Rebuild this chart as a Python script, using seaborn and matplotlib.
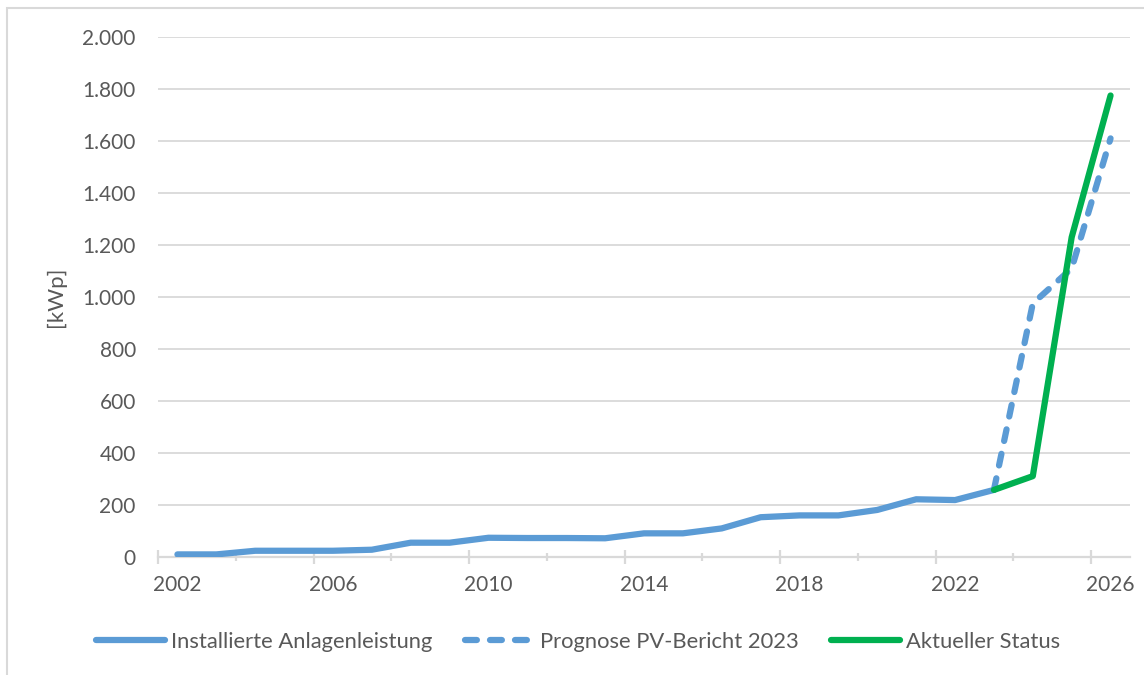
import matplotlib
matplotlib.use("Agg")
import matplotlib.pyplot as plt
from matplotlib.patches import Rectangle
from matplotlib.ticker import FuncFormatter, FixedLocator
import seaborn as sns
import pandas as pd

# ---- data ----
years_installed = [2002, 2003, 2004, 2005, 2006, 2007, 2008, 2009, 2010, 2011, 2012,
                   2013, 2014, 2015, 2016, 2017, 2018, 2019, 2020, 2021, 2022, 2023]
installed = [10, 10, 24, 24, 24, 28, 55, 55, 74, 73, 73,
             72, 91, 91, 110, 153, 160, 160, 181, 222, 219, 258]
years_forecast = [2023, 2024, 2025, 2026]
forecast = [258, 975, 1110, 1610]
status = [258, 311, 1230, 1775]
label_installed = "Installierte Anlagenleistung"
label_forecast = "Prognose PV-Bericht 2023"
label_status = "Aktueller Status"
x_labels = [2002, 2006, 2010, 2014, 2018, 2022, 2026]
y_label = "[kWp]"

BLUE = "#5B9BD5"
GREEN = "#00B050"
GRID = "#D9D9D9"
TXT = "#595959"

sns.set_theme(style="white")
plt.rcParams["font.family"] = ["Lato", "DejaVu Sans"]

fig = plt.figure(figsize=(11.44, 6.75), dpi=100)
ax = fig.add_axes([158 / 1144, 1 - 557 / 675, (1130 - 158) / 1144, (557 - 37) / 675])

df_i = pd.DataFrame({"Jahr": years_installed, "kWp": installed})
df_f = pd.DataFrame({"Jahr": years_forecast, "kWp": forecast})
df_s = pd.DataFrame({"Jahr": years_forecast, "kWp": status})

lw = 4.5
sns.lineplot(data=df_i, x="Jahr", y="kWp", ax=ax, color=BLUE, linewidth=lw,
             solid_capstyle="round", solid_joinstyle="round", label=label_installed, zorder=3)
sns.lineplot(data=df_f, x="Jahr", y="kWp", ax=ax, color=BLUE, linewidth=lw,
             linestyle=(0, (1.9, 2.1)), dash_capstyle="round", dash_joinstyle="round",
             label=label_forecast, zorder=3)
sns.lineplot(data=df_s, x="Jahr", y="kWp", ax=ax, color=GREEN, linewidth=lw,
             solid_capstyle="round", solid_joinstyle="round", label=label_status, zorder=4)

ax.set_xlim(2001.5, 2026.5)
ax.set_ylim(0, 2000)
ax.set_yticks(range(0, 2001, 200))
ax.yaxis.set_major_formatter(FuncFormatter(lambda v, p: f"{int(v):,}".replace(",", ".")))
ax.grid(axis="y", color=GRID, linewidth=1.3, zorder=0)
ax.grid(axis="x", visible=False)
for s in ["top", "right", "left"]:
    ax.spines[s].set_visible(False)
ax.spines["bottom"].set_color(GRID)
ax.spines["bottom"].set_linewidth(1.6)
ax.spines["bottom"].set_zorder(1)

ax.tick_params(axis="y", length=0, pad=16, labelsize=15, labelcolor=TXT)
ax.set_ylabel(y_label, fontsize=16, color=TXT, labelpad=12)
ax.set_xlabel("")

# tick marks at category boundaries (long every 4, short in between)
ax.xaxis.set_major_locator(FixedLocator([2001.5 + 4 * k for k in range(7)]))
ax.xaxis.set_minor_locator(FixedLocator([2003.5 + 4 * k for k in range(6)]))
ax.tick_params(axis="x", which="major", length=10, width=1.6, color=GRID,
               direction="inout", labelbottom=False, bottom=True)
ax.tick_params(axis="x", which="minor", length=6, width=1.6, color=GRID,
               direction="inout", bottom=True)

# labels centered on categories
sec = ax.secondary_xaxis("bottom")
sec.set_xticks(x_labels)
sec.set_xticklabels([str(y) for y in x_labels])
sec.tick_params(length=0, pad=13, labelsize=15, labelcolor=TXT)
sec.spines["bottom"].set_visible(False)

ax.get_legend().remove()
handles, labels = ax.get_legend_handles_labels()
leg = fig.legend(handles, labels, loc="center", bbox_to_anchor=(578 / 1144, 1 - 642 / 675),
                 ncol=3, frameon=False, fontsize=15.8, handlelength=3.15,
                 handletextpad=0.25, columnspacing=1.5, labelcolor=TXT)

fig.add_artist(Rectangle((7 / 1144, -0.2), 2.0, 1.2 - 8 / 675, transform=fig.transFigure,
                         fill=False, edgecolor=GRID, linewidth=1.5))

fig.savefig("out.png", dpi=100)
